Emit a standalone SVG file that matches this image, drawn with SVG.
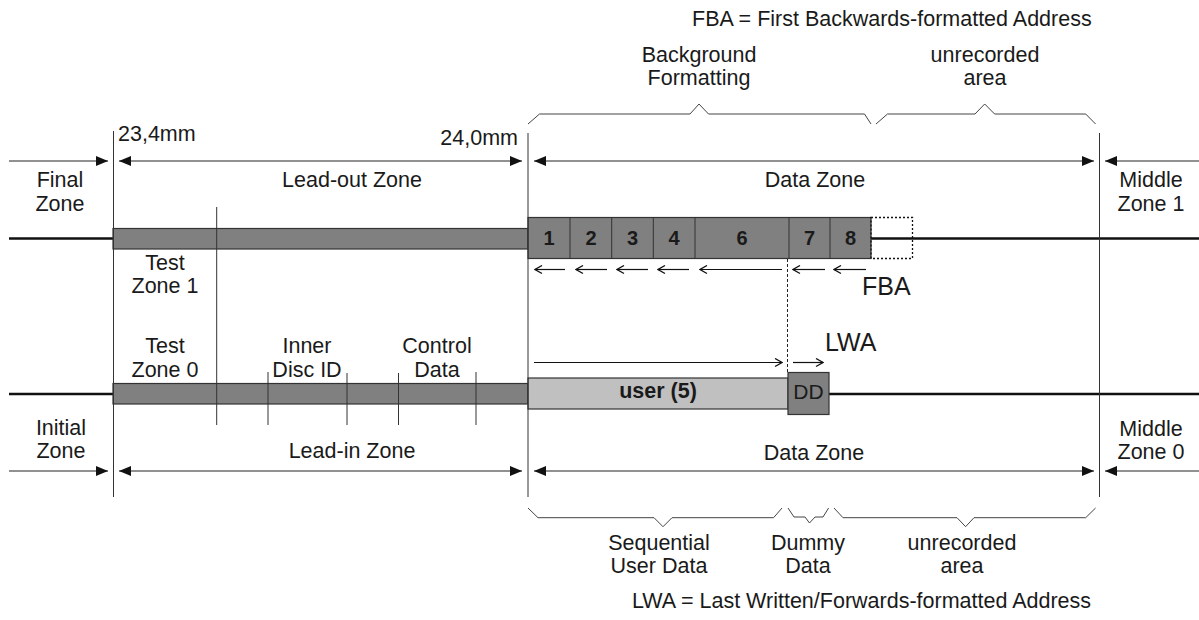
<svg xmlns="http://www.w3.org/2000/svg" width="1199" height="620" viewBox="0 0 1199 620">
<style>
  text { font-family: "Liberation Sans", Arial, sans-serif; font-size: 21.5px; fill: #1a1a1a; }
  .c { text-anchor: middle; }
  .b { font-weight: bold; font-size: 20px; }
  .big { font-size: 25px; }
  .thin { stroke: #222; stroke-width: 1; fill: none; }
  .vline { stroke: #333; stroke-width: 1; fill: none; }
  .thick { stroke: #111; stroke-width: 2.5; fill: none; }
  .dark { fill: #808080; stroke: #333; stroke-width: 1.2; }
  .light { fill: #c0c0c0; stroke: #333; stroke-width: 1.2; }
  .brace { stroke: #444; stroke-width: 1; fill: none; }
  .dash { stroke: #222; stroke-width: 1; stroke-dasharray: 3 2; fill: none; }
  .dot { stroke: #111; stroke-width: 1.3; stroke-dasharray: 2 2; fill: none; }
  .arr { stroke: #111; stroke-width: 1.2; fill: none; }
</style>
<defs>
  <marker id="fa" viewBox="0 0 12 10" refX="12" refY="5" markerWidth="12" markerHeight="10" markerUnits="userSpaceOnUse" orient="auto-start-reverse">
    <path d="M0,0 L12,5 L0,10 z" fill="#111"/>
  </marker>
  <marker id="oa" viewBox="0 0 9 10" refX="8" refY="5" markerWidth="9" markerHeight="10" markerUnits="userSpaceOnUse" orient="auto-start-reverse">
    <path d="M1,1 L8,5 L1,9" fill="none" stroke="#111" stroke-width="1.3"/>
  </marker>
</defs>

<g id="legend-fba"><text x="692" y="26">FBA = First Backwards-formatted Address</text></g>
<g id="legend-lwa"><text x="632" y="608">LWA = Last Written/Forwards-formatted Address</text></g>

<g id="label-background-formatting"><text class="c" x="699" y="62">Background</text><text class="c" x="699" y="85">Formatting</text></g>
<g id="label-unrecorded-top"><text class="c" x="985" y="62">unrecorded</text><text class="c" x="985" y="85">area</text></g>

<g id="label-234"><text x="118" y="141">23,4mm</text></g>
<g id="label-240"><text x="518" y="145" text-anchor="end">24,0mm</text></g>

<g id="final-zone"><text class="c" x="60" y="187">Final</text><text class="c" x="60" y="211">Zone</text></g>
<g id="lead-out-zone"><text class="c" x="352" y="187">Lead-out Zone</text></g>
<g id="data-zone-1"><text class="c" x="815" y="187">Data Zone</text></g>
<g id="middle-zone-1"><text class="c" x="1151" y="187">Middle</text><text class="c" x="1151" y="211">Zone 1</text></g>

<g id="test-zone-1"><text class="c" x="165" y="270">Test</text><text class="c" x="165" y="293">Zone 1</text></g>
<g id="test-zone-0"><text class="c" x="165" y="353">Test</text><text class="c" x="165" y="377">Zone 0</text></g>
<g id="inner-disc-id"><text class="c" x="307" y="353">Inner</text><text class="c" x="307" y="377">Disc ID</text></g>
<g id="control-data"><text class="c" x="437" y="353">Control</text><text class="c" x="437" y="377">Data</text></g>

<g id="initial-zone"><text class="c" x="61" y="435">Initial</text><text class="c" x="61" y="458">Zone</text></g>
<g id="lead-in-zone"><text class="c" x="352" y="458">Lead-in Zone</text></g>
<g id="data-zone-0"><text class="c" x="814" y="460">Data Zone</text></g>
<g id="middle-zone-0"><text class="c" x="1151" y="436">Middle</text><text class="c" x="1151" y="459">Zone 0</text></g>

<g id="label-sequential"><text class="c" x="659" y="550">Sequential</text><text class="c" x="659" y="573">User Data</text></g>
<g id="label-dummy"><text class="c" x="808" y="550">Dummy</text><text class="c" x="808" y="573">Data</text></g>
<g id="label-unrecorded-bottom"><text class="c" x="962" y="550">unrecorded</text><text class="c" x="962" y="573">area</text></g>

<g id="label-fba"><text class="big" x="862" y="295">FBA</text></g>
<g id="label-lwa"><text class="big" x="825" y="351">LWA</text></g>

<!-- layer 1 track -->
<g id="track-layer1">
  <line class="thick" x1="9" y1="238.5" x2="113" y2="238.5"/>
  <rect class="dark" x="113" y="228.5" width="415" height="20.5"/>
  <line class="thick" x1="871" y1="238.5" x2="1199" y2="238.5"/>
  <rect class="dark" x="528" y="217.5" width="343" height="41"/>
  <path class="vline" d="M570,217.5 V258.5 M611.7,217.5 V258.5 M653.3,217.5 V258.5 M695,217.5 V258.5 M789,217.5 V258.5 M830,217.5 V258.5"/>
  <rect class="dot" x="871" y="217.5" width="41.5" height="41"/>
  <text class="c b" x="549" y="244.5">1</text>
  <text class="c b" x="591" y="244.5">2</text>
  <text class="c b" x="632.5" y="244.5">3</text>
  <text class="c b" x="674" y="244.5">4</text>
  <text class="c b" x="742" y="244.5">6</text>
  <text class="c b" x="809.5" y="244.5">7</text>
  <text class="c b" x="850.5" y="244.5">8</text>
</g>

<!-- layer 0 track -->
<g id="track-layer0">
  <line class="thick" x1="9" y1="394" x2="113" y2="394"/>
  <rect class="dark" x="113" y="383.5" width="415" height="20.5"/>
  <line class="thick" x1="829" y1="394" x2="1199" y2="394"/>
  <rect class="light" x="528" y="378" width="260" height="31"/>
  <text class="c" x="658" y="398" style="font-weight:bold">user (5)</text>
  <rect class="dark" x="788" y="372.5" width="41" height="42"/>
  <text class="c" x="808.5" y="399" style="font-size:21px">DD</text>
</g>

<g id="connectors">
  <!-- vertical boundaries -->
  <line class="vline" x1="113.5" y1="131" x2="113.5" y2="497"/>
  <line class="vline" x1="528" y1="133" x2="528" y2="497"/>
  <line class="vline" x1="1099.5" y1="133" x2="1099.5" y2="497"/>
  <line class="vline" x1="216.7" y1="207" x2="216.7" y2="425"/>
  <line class="vline" x1="268" y1="372" x2="268" y2="425"/>
  <line class="vline" x1="347" y1="373" x2="347" y2="425"/>
  <line class="vline" x1="398.5" y1="373" x2="398.5" y2="425"/>
  <line class="vline" x1="476" y1="372" x2="476" y2="425"/>
  <line class="dash" x1="787.5" y1="259" x2="787.5" y2="372"/>

  <!-- top dimension arrows -->
  <line class="thin" x1="9" y1="161" x2="108" y2="161" marker-end="url(#fa)"/>
  <line class="thin" x1="119" y1="161" x2="522" y2="161" marker-start="url(#fa)" marker-end="url(#fa)"/>
  <line class="thin" x1="534" y1="161" x2="1094" y2="161" marker-start="url(#fa)" marker-end="url(#fa)"/>
  <line class="thin" x1="1199" y1="161" x2="1105" y2="161" marker-end="url(#fa)"/>

  <!-- bottom dimension arrows -->
  <line class="thin" x1="9" y1="471" x2="108" y2="471" marker-end="url(#fa)"/>
  <line class="thin" x1="119" y1="471" x2="522" y2="471" marker-start="url(#fa)" marker-end="url(#fa)"/>
  <line class="thin" x1="534" y1="471" x2="1094" y2="471" marker-start="url(#fa)" marker-end="url(#fa)"/>
  <line class="thin" x1="1199" y1="471" x2="1105" y2="471" marker-end="url(#fa)"/>

  <!-- backward format arrows -->
  <line class="arr" x1="565" y1="269.5" x2="535" y2="269.5" marker-end="url(#oa)"/>
  <line class="arr" x1="607" y1="269.5" x2="576" y2="269.5" marker-end="url(#oa)"/>
  <line class="arr" x1="648" y1="269.5" x2="617" y2="269.5" marker-end="url(#oa)"/>
  <line class="arr" x1="689" y1="269.5" x2="658" y2="269.5" marker-end="url(#oa)"/>
  <line class="arr" x1="782" y1="269.5" x2="700" y2="269.5" marker-end="url(#oa)"/>
  <line class="arr" x1="825" y1="269.5" x2="793" y2="269.5" marker-end="url(#oa)"/>
  <line class="arr" x1="866" y1="269.5" x2="834" y2="269.5" marker-end="url(#oa)"/>

  <!-- forward write arrows -->
  <line class="arr" x1="534" y1="362.5" x2="782" y2="362.5" marker-end="url(#oa)"/>
  <line class="arr" x1="793" y1="362.5" x2="823" y2="362.5" marker-end="url(#oa)"/>

  <!-- braces top -->
  <path class="brace" d="M528,124 L539.5,114 L690,114 L699,104 L708.5,114 L864.5,114 L871,124"/>
  <path class="brace" d="M876,124 L887.5,114 L975,114 L984.7,104 L994.6,114 L1085.7,114 L1095.6,124"/>
  <!-- braces bottom -->
  <path class="brace" d="M528,508 L538,517.7 L654,517.7 L663,526.7 L672,517.7 L773.6,517.7 L782,508"/>
  <path class="brace" d="M788,508 L794,517 L805,517 L809.5,523 L815,517 L823,517 L828.6,508"/>
  <path class="brace" d="M834,508 L843,517.7 L957,517.7 L965.6,526.7 L974,517.7 L1085.7,517.7 L1095.6,508"/>
</g>
</svg>
